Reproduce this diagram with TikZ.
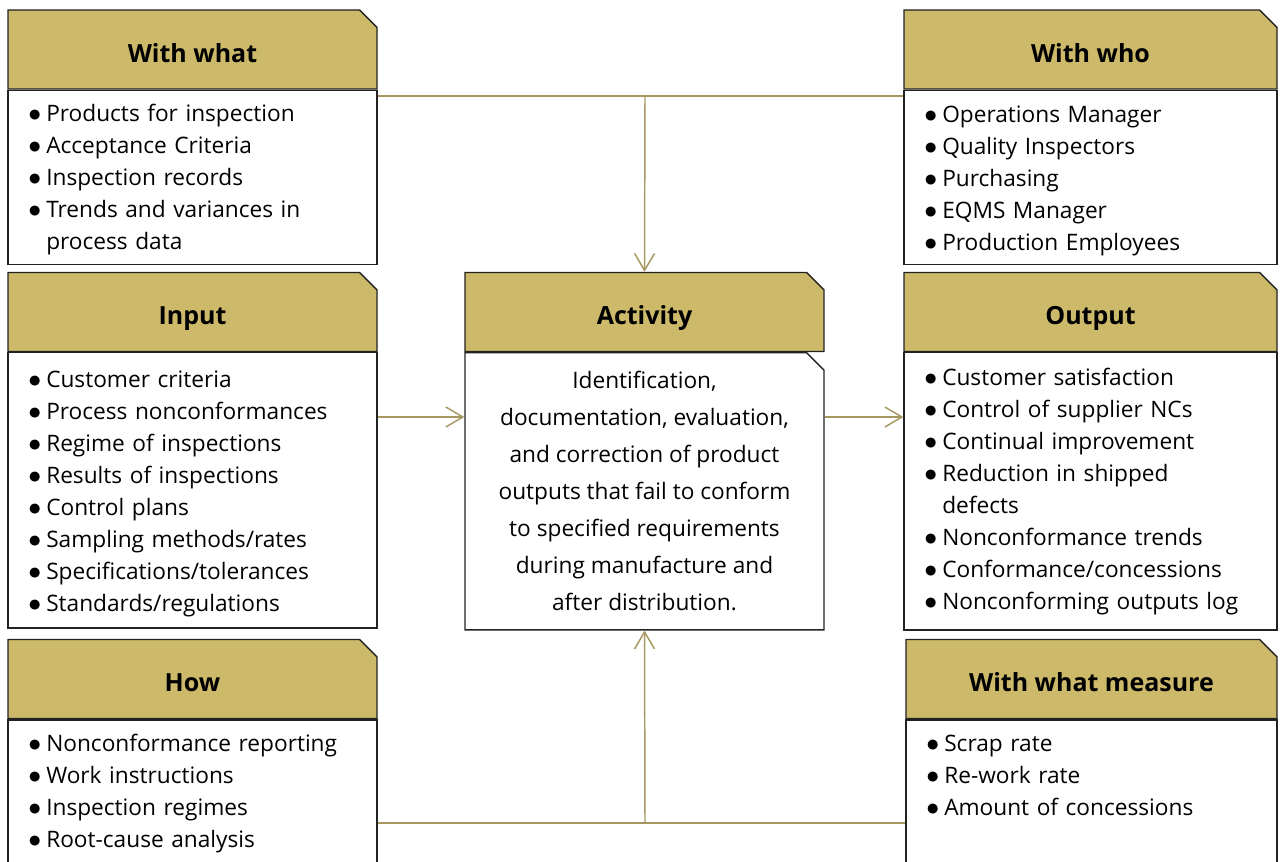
\documentclass[tikz,border=0pt]{standalone}
\usepackage{fontspec}
\usepackage{graphicx}
\setmainfont{Open Sans}
\usetikzlibrary{positioning,shapes.misc,arrows.meta}
\definecolor{ocra}{HTML}{CDB96A}
\definecolor{oliva}{HTML}{A69860}
\definecolor{bordo}{HTML}{222222}
% one bullet line, wrapped lines hang under the text
\newcommand{\voce}[1]{\hangindent=14pt\hangafter=1\noindent\makebox[14pt][l]{\hspace{0.5pt}\scalebox{1.12}{$\bullet$}}#1\par}

\begin{document}
\begin{tikzpicture}[x=0.75pt, y=-0.75pt,
  box/.style={chamfered rectangle, chamfered rectangle corners=north east,
    chamfered rectangle xsep=6.5pt, chamfered rectangle ysep=6.5pt,
    draw=bordo, line width=1pt, inner sep=0pt},
  head/.style={box, fill=ocra, minimum height=59.25pt,
    text height=19.4pt, text depth=0pt,
    font=\bfseries\fontsize{18.75}{22}\selectfont},
  body/.style={box, fill=white},
  items/.style={anchor=north west, align=left, inner sep=0pt, text width=#1,
    font=\fontsize{17}{24}\selectfont},
  link/.style={oliva, line width=1.1pt},
  arrow/.style={link, -{Straight Barb[length=12.75pt, width=15pt]}}]
  \clip (0,0) rectangle (1281,862);
  % With what
  \node[head, minimum width=276.75pt] (whathead) at (192.5,49.5) {With what};
  \node[body, minimum width=276.75pt, minimum height=130.5pt, below=0pt of whathead] (whatbody) {};
  \node[items=250pt, below right=10.5pt and 15pt of whatbody.north west] (whatlist) {%
    \voce{Products for inspection}
    \voce{Acceptance Criteria}
    \voce{Inspection records}
    \voce{Trends and variances in\newline process data}};
  % With who
  \node[head, minimum width=279.75pt] (whohead) at (1090.5,49.5) {With who};
  \node[body, minimum width=279.75pt, minimum height=130.5pt, below=0pt of whohead] (whobody) {};
  \node[items=250pt, below right=12pt and 15pt of whobody.north west] (wholist) {%
    \voce{Operations Manager}
    \voce{Quality Inspectors}
    \voce{Purchasing}
    \voce{EQMS Manager}
    \voce{Production Employees}};
  % Input
  \node[head, minimum width=276.75pt] (inhead) at (192.5,312) {Input};
  \node[body, minimum width=276.75pt, minimum height=206.25pt, below=0pt of inhead] (inbody) {};
  \node[items=250pt, below right=13.5pt and 15pt of inbody.north west] (inlist) {%
    \voce{Customer criteria}
    \voce{Process nonconformances}
    \voce{Regime of inspections}
    \voce{Results of inspections}
    \voce{Control plans}
    \voce{Sampling methods/rates}
    \voce{Specifications/tolerances}
    \voce{Standards/regulations}};
  % Activity
  \node[head, minimum width=269.25pt] (acthead) at (644.5,312) {Activity};
  \node[body, minimum width=269.25pt, minimum height=207.75pt, below=0pt of acthead,
    align=center, font=\fontsize{17}{27.75}\selectfont] (actbody) {%
    Identification,\\ documentation, evaluation,\\ and correction of product\\
    outputs that fail to conform\\ to specified requirements\\
    during manufacture and\\ after distribution.};
  % Output
  \node[head, minimum width=279.75pt] (outhead) at (1090.5,312) {Output};
  \node[body, minimum width=279.75pt, minimum height=207.75pt, below=0pt of outhead] (outbody) {};
  \node[items=250pt, below right=11.75pt and 15pt of outbody.north west] (outlist) {%
    \voce{Customer satisfaction}
    \voce{Control of supplier NCs}
    \voce{Continual improvement}
    \voce{Reduction in shipped\newline defects}
    \voce{Nonconformance trends}
    \voce{Conformance/concessions}
    \voce{Nonconforming outputs log}};
  % How
  \node[head, minimum width=276.75pt] (howhead) at (192.5,679) {How};
  \node[body, minimum width=276.75pt, minimum height=150pt, below=0pt of howhead] (howbody) {};
  \node[items=250pt, below right=11pt and 15pt of howbody.north west] (howlist) {%
    \voce{Nonconformance reporting}
    \voce{Work instructions}
    \voce{Inspection regimes}
    \voce{Root-cause analysis}};
  % With what measure
  \node[head, minimum width=278.25pt] (meashead) at (1091.5,679) {With what measure};
  \node[body, minimum width=278.25pt, minimum height=150pt, below=0pt of meashead] (measbody) {};
  \node[items=250pt, below right=11.75pt and 15pt of measbody.north west] (measlist) {%
    \voce{Scrap rate}
    \voce{Re-work rate}
    \voce{Amount of concessions}};
  % Connectors
  \coordinate (topjoin) at (645,96);
  \coordinate (botjoin) at (645,823);
  \draw[link] (whatbody.east |- topjoin) -- (whobody.west |- topjoin);
  \draw[arrow] (topjoin) -- (acthead.north);
  \draw[link] (howbody.east |- botjoin) -- (measbody.west |- botjoin);
  \draw[arrow] (botjoin) -- (actbody.south);
  \draw[arrow] (inbody.east |- 0,417) -- (actbody.west |- 0,417);
  \draw[arrow] (actbody.east |- 0,417) -- (outbody.west |- 0,417);
\end{tikzpicture}
\end{document}
